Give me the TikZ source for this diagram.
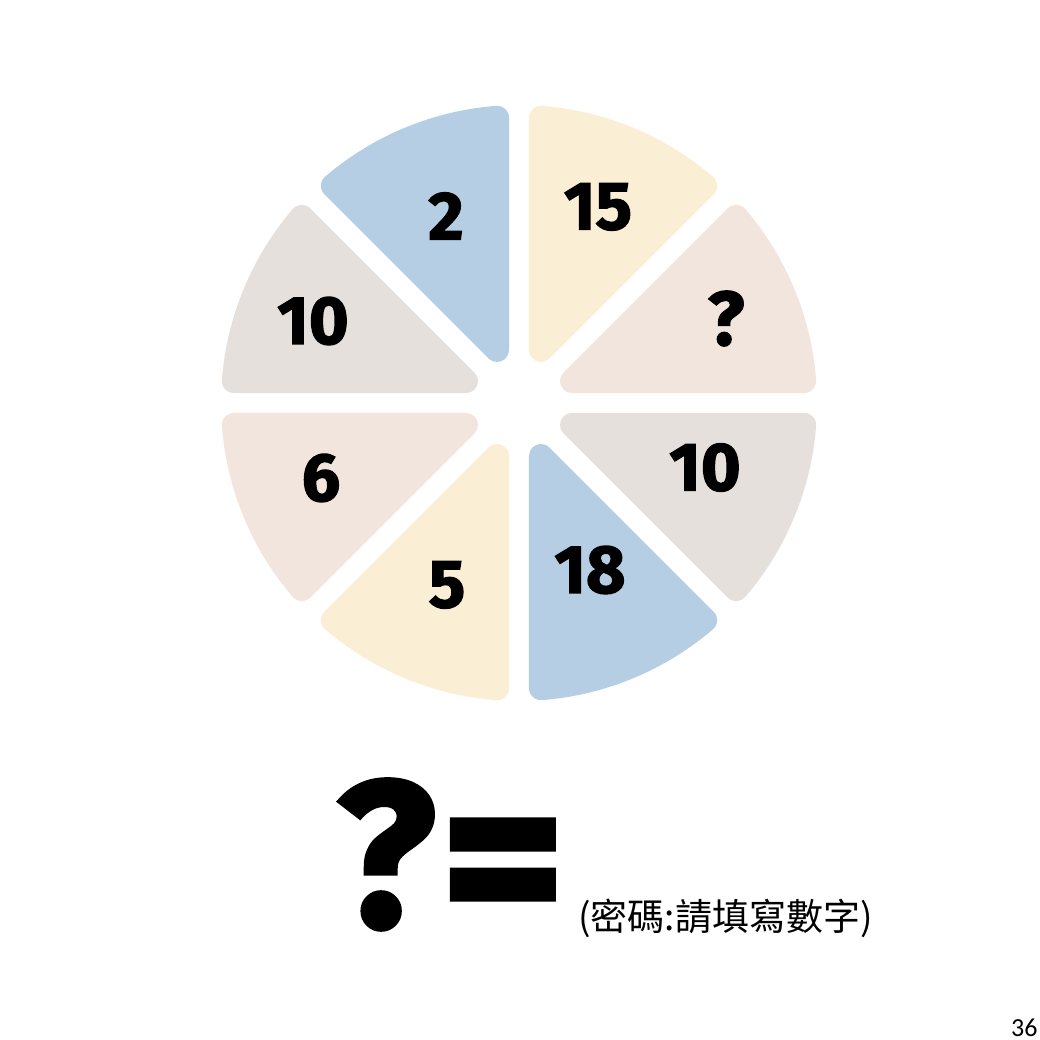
\documentclass[tikz,border=0pt]{standalone}
\usepackage{fontspec}
\setmainfont{Fira Sans}
\newfontfamily\numfont[BoldFeatures={FakeBold=2}]{Fira Sans}
\newfontfamily\cjk{Noto Sans CJK TC}
\newfontfamily\pagefont{Carlito}
\definecolor{bluec}{HTML}{B5CEE3}
\definecolor{yellowc}{HTML}{FAEED4}
\definecolor{pinkc}{HTML}{F2E5DE}
\definecolor{grayc}{HTML}{E6E0DD}
\begin{document}
\begin{tikzpicture}[x=1pt,y=1pt,
  num/.style={font=\numfont\bfseries\fontsize{68}{68}\selectfont, inner sep=0pt, text=black},
  big/.style={font=\numfont\bfseries\fontsize{207}{207}\selectfont, inner sep=0pt, text=black}]
\useasboundingbox (0,0) rectangle (1040,1040);
\fill[white] (0,0) rectangle (1040,1040);
\coordinate (C) at (519,637);
\foreach \k/\col in {0/pinkc,1/yellowc,2/bluec,3/grayc,4/pinkc,5/yellowc,6/bluec,7/grayc}{
  \begin{scope}[shift={(C)}, rotate=45*\k]
    \fill[\col] (53.0,9.95) -- (285.16,9.95)
      arc[start angle=-90, end angle=4.40, radius=12]
      arc[start angle=4.40, end angle=40.60, radius=298]
      arc[start angle=40.60, end angle=135, radius=12]
      -- (44.51,30.44)
      arc[start angle=135, end angle=270, radius=12]
      -- cycle;
  \end{scope}
}
\node[num] (n2) at (446,824) {2};
\node[num] (n15) at (598,833) {15};
\node[num] (n10a) at (313,719) {10};
\node[num, font=\numfont\bfseries\fontsize{76}{76}\selectfont] (nq) at (726,721.5) {?};
\node[num] (n10b) at (705,572.5) {10};
\node[num] (n18) at (590,470) {18};
\node[num] (n5) at (447,455) {5};
\node[num] (n6) at (321,562) {6};
\node[big] (bq) at (386,185.5) {?};
\node[big, font=\numfont\bfseries\fontsize{240}{240}\selectfont] (beq) at (503,160.5) {=};
\node[font=\cjk\fontsize{37}{37}\selectfont, anchor=west, inner sep=0pt] (note) at (578,122) {(密碼:請填寫數字)};
\node[font=\pagefont\fontsize{26}{26}\selectfont, anchor=base west, inner sep=0pt] (pg) at (1011,3.5) {36};
\end{tikzpicture}
\end{document}
